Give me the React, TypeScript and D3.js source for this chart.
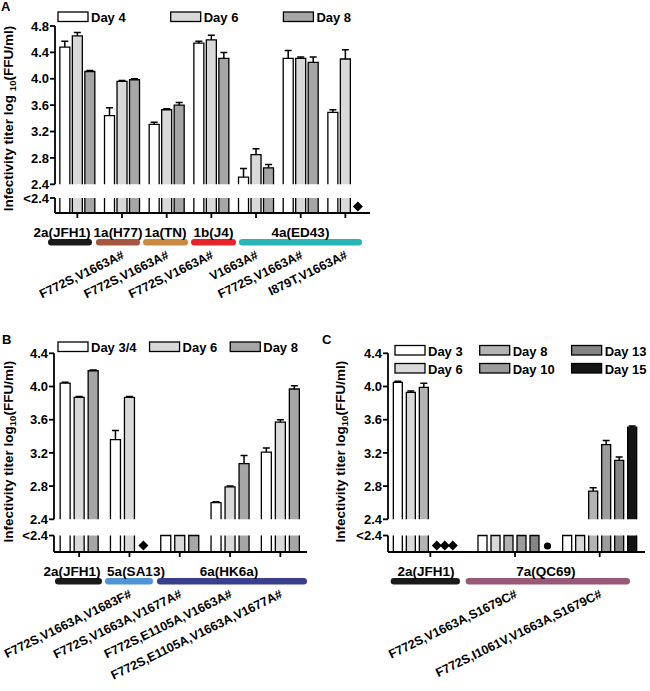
import React, { useEffect, useRef } from 'react';
import * as d3 from 'd3';

type Cell = number | 'lod' | 'nd' | 'dot';

// ---- Panel A ----
const groupsA = ['JFH1', 'H77', 'TN', 'J4', 'ED43-a', 'ED43-b', 'ED43-c'];
const mutationsA = ['', 'F772S,V1663A#', 'F772S,V1663A#', 'F772S,V1663A#', 'V1663A#', 'F772S,V1663A#', 'I879T,V1663A#'];
const daysA = ['Day 4', 'Day 6', 'Day 8'];
const day4A: Cell[] = [4.48, 3.44, 3.31, 4.54, 2.51, 4.31, 3.49];
const day6A: Cell[] = [4.65, 3.96, 3.53, 4.59, 2.85, 4.31, 4.3];
const day8A: Cell[] = [4.11, 3.985, 3.6, 4.31, 2.65, 4.25, 'nd'];
const err4A = [0.09, 0.12, 0.03, 0.03, 0.13, 0.12, 0.04];
const err6A = [0.05, 0.015, 0.015, 0.07, 0.09, 0.02, 0.14];
const err8A = [0.015, 0.015, 0.04, 0.09, 0.05, 0.08, 0];
const cladesA = ['2a(JFH1)', '1a(H77)', '1a(TN)', '1b(J4)', '4a(ED43)'];
const cladeFirstA = [0, 1, 2, 3, 4];
const cladeLastA = [0, 1, 2, 3, 6];
const cladeColorsA = ['#1a1a1a', '#a6573f', '#c98b3f', '#e5232a', '#2ab4b6'];
const ticksA = [2.4, 2.8, 3.2, 3.6, 4.0, 4.4, 4.8];

// ---- Panel B ----
const groupsB = ['JFH1', 'SA13', 'HK6a-a', 'HK6a-b', 'HK6a-c'];
const mutationsB = ['', 'F772S,V1663A,V1683F#', 'F772S,V1663A,V1677A#', 'F772S,E1105A,V1663A#', 'F772S,E1105A,V1663A,V1677A#'];
const daysB = ['Day 3/4', 'Day 6', 'Day 8'];
const day34B: Cell[] = [4.04, 3.36, 'lod', 2.6, 3.21];
const day6B: Cell[] = [3.87, 3.87, 'lod', 2.79, 3.57];
const day8B: Cell[] = [4.19, 'nd', 'lod', 3.07, 3.97];
const err34B = [0.01, 0.11, 0, 0.01, 0.05];
const err6B = [0.01, 0.01, 0, 0.01, 0.03];
const err8B = [0.01, 0, 0, 0.1, 0.04];
const cladesB = ['2a(JFH1)', '5a(SA13)', '6a(HK6a)'];
const cladeFirstB = [0, 1, 2];
const cladeLastB = [0, 1, 4];
const cladeColorsB = ['#1a1a1a', '#4f93d8', '#3b3d8e'];
const ticksB = [2.4, 2.8, 3.2, 3.6, 4.0, 4.4];

// ---- Panel C ----
const groupsC = ['JFH1', 'QC69-a', 'QC69-b'];
const mutationsC = ['', 'F772S,V1663A,S1679C#', 'F772S,I1061V,V1663A,S1679C#'];
const daysC = ['Day 3', 'Day 6', 'Day 8', 'Day 10', 'Day 13', 'Day 15'];
const day3C: Cell[] = [4.05, 'lod', 'lod'];
const day6C: Cell[] = [3.93, 'lod', 'lod'];
const day8C: Cell[] = [3.99, 'lod', 2.74];
const day10C: Cell[] = ['nd', 'lod', 3.3];
const day13C: Cell[] = ['nd', 'lod', 3.11];
const day15C: Cell[] = ['nd', 'dot', 3.51];
const err3C = [0.012, 0, 0];
const err6C = [0.015, 0, 0];
const err8C = [0.05, 0, 0.04];
const err10C = [0, 0, 0.05];
const err13C = [0, 0, 0.04];
const err15C = [0, 0, 0.015];
const cladesC = ['2a(JFH1)', '7a(QC69)'];
const cladeFirstC = [0, 1];
const cladeLastC = [0, 2];
const cladeColorsC = ['#1a1a1a', '#9a5878'];
const ticksC = [2.4, 2.8, 3.2, 3.6, 4.0, 4.4];

const FONT = '"Liberation Sans", Arial, sans-serif';

interface PanelSpec {
  letter: string;
  letterPos: [number, number];
  groups: string[];
  mutations: string[];
  days: string[];
  values: Cell[][];
  errors: number[][];
  fills: string[];
  clades: string[];
  cladeFirst: number[];
  cladeLast: number[];
  cladeColors: string[];
  // layout tweaks for the clade bars (px relative to band edges) and their labels
  cladeBarAdj: [number, number][];
  cladeLabelAdj: number[];
  ticks: number[];
  axisX: number;
  axisEnd: number;
  bandRange: [number, number];
  yTop: number;
  y24: number;
  lowTop: number;
  base: number;
  step: number;
  barW: number;
  titleX: number;
  titleSpace: boolean;
  legendX: number;
  legendY: number;
  legendRows: number;
  legendGap: number;
}

function drawPanel(svg: d3.Selection<SVGSVGElement, unknown, null, undefined>, p: PanelSpec) {
  const g = svg.append('g').style('font-family', FONT).style('font-weight', 'bold');
  const x = d3.scaleBand().domain(p.groups).range(p.bandRange);
  const half = ((p.days.length - 1) / 2) * p.step;
  const inner = d3.scalePoint().domain(p.days).range([-half, half]);
  const yMax = p.ticks[p.ticks.length - 1];
  const y = d3.scaleLinear().domain([p.ticks[0], yMax]).range([p.y24, p.yTop]);
  const center = (gi: number) => (x(p.groups[gi]) as number) + x.bandwidth() / 2;
  const cx = (gi: number, di: number) => center(gi) + (inner(p.days[di]) as number);

  // Bars
  p.values.forEach((series, di) => {
    series.forEach((v, gi) => {
      const c = cx(gi, di);
      const x0 = c - p.barW / 2;
      const x1 = c + p.barW / 2;
      if (typeof v === 'number') {
        g.append('path')
          .attr('d', `M${x0},${p.y24}V${y(v)}H${x1}V${p.y24}`)
          .attr('fill', p.fills[di]).attr('stroke', '#000').attr('stroke-width', 1.3);
        g.append('path')
          .attr('d', `M${x0},${p.lowTop}V${p.base}H${x1}V${p.lowTop}`)
          .attr('fill', p.fills[di]).attr('stroke', '#000').attr('stroke-width', 1.3);
        const ye = y(v + p.errors[di][gi]);
        g.append('path')
          .attr('d', `M${c},${y(v)}V${ye}M${c - 3.5},${ye}H${c + 3.5}`)
          .attr('fill', 'none').attr('stroke', '#000').attr('stroke-width', 1.5);
      } else if (v === 'lod') {
        g.append('path')
          .attr('d', `M${x0},${p.base}V${p.lowTop}H${x1}V${p.base}`)
          .attr('fill', p.fills[di]).attr('stroke', '#000').attr('stroke-width', 1.3);
      } else if (v === 'nd') {
        // pack consecutive diamonds of a group closely together
        let first = di;
        while (first > 0 && p.values[first - 1][gi] === 'nd') first--;
        const px = cx(gi, first) + (di - first) * 8;
        g.append('path')
          .attr('d', d3.symbol(d3.symbolSquare, 50)())
          .attr('transform', `translate(${px},${p.base - 6.5}) rotate(45)`)
          .attr('fill', '#000');
      } else {
        g.append('circle').attr('cx', c).attr('cy', p.base - 6).attr('r', 3.6).attr('fill', '#000');
      }
    });
  });

  // Y axis (broken)
  const ax = g.append('g').attr('stroke', '#000').attr('stroke-width', 1.8).attr('fill', 'none');
  ax.append('line').attr('x1', p.axisX).attr('x2', p.axisX).attr('y1', y(yMax)).attr('y2', p.y24);
  ax.append('line').attr('x1', p.axisX).attr('x2', p.axisX).attr('y1', p.lowTop).attr('y2', p.base);
  p.ticks.forEach(t => {
    ax.append('line').attr('x1', p.axisX - 5).attr('x2', p.axisX).attr('y1', y(t)).attr('y2', y(t));
    g.append('text').attr('x', p.axisX - 6).attr('y', y(t)).attr('dy', '0.36em')
      .attr('text-anchor', 'end').style('font-size', '13px').text(d3.format('.1f')(t));
  });
  ax.append('line').attr('x1', p.axisX - 5).attr('x2', p.axisX).attr('y1', p.lowTop).attr('y2', p.lowTop);
  g.append('text').attr('x', p.axisX - 6).attr('y', p.lowTop).attr('dy', '0.36em')
    .attr('text-anchor', 'end').style('font-size', '13px').text('<2.4');

  // X axis
  ax.append('line').attr('x1', p.axisX).attr('x2', p.axisEnd).attr('y1', p.base).attr('y2', p.base);
  p.groups.forEach((_, gi) => {
    ax.append('line').attr('x1', center(gi)).attr('x2', center(gi)).attr('y1', p.base).attr('y2', p.base + 5);
  });

  // Clade labels and colored bars
  p.clades.forEach((name, i) => {
    const a = (x(p.groups[p.cladeFirst[i]]) as number) + p.cladeBarAdj[i][0];
    const b = (x(p.groups[p.cladeLast[i]]) as number) + x.bandwidth() + p.cladeBarAdj[i][1];
    g.append('rect').attr('x', a).attr('y', p.base + 26).attr('width', b - a).attr('height', 6.5)
      .attr('rx', 3.2).attr('fill', p.cladeColors[i]);
    g.append('text').attr('x', (a + b) / 2 + p.cladeLabelAdj[i]).attr('y', p.base + 24).attr('text-anchor', 'middle')
      .style('font-size', '13.5px').text(name);
  });

  // Mutation labels
  p.mutations.forEach((m, gi) => {
    if (!m) return;
    g.append('text')
      .attr('transform', `translate(${center(gi) + 3},${p.base + 45}) rotate(-26)`)
      .attr('text-anchor', 'end').style('font-size', '12.5px').text(m);
  });

  // Y title
  const title = g.append('text')
    .attr('transform', `translate(${p.titleX},${(p.yTop + p.base) / 2 - 1}) rotate(-90)`)
    .attr('text-anchor', 'middle').style('font-size', '13.5px');
  title.append('tspan').text(p.titleSpace ? 'Infectivity titer log ' : 'Infectivity titer log');
  title.append('tspan').attr('dy', 3).style('font-size', '9.5px').text('10');
  title.append('tspan').attr('dy', -3).text('(FFU/ml)');

  // Legend
  const leg = g.append('g');
  let colX = p.legendX;
  const cols = Math.ceil(p.days.length / p.legendRows);
  for (let c = 0; c < cols; c++) {
    let colW = 0;
    for (let r = 0; r < p.legendRows; r++) {
      const di = c * p.legendRows + r;
      if (di >= p.days.length) break;
      const yy = p.legendY + r * 18;
      leg.append('rect').attr('x', colX).attr('y', yy).attr('width', 30).attr('height', 9.5)
        .attr('fill', p.fills[di]).attr('stroke', '#000').attr('stroke-width', 1.3);
      const t = leg.append('text').attr('x', colX + 33).attr('y', yy + 10)
        .style('font-size', '13px').text(p.days[di]);
      const w = (t.node() as SVGTextElement).getComputedTextLength();
      colW = Math.max(colW, 33 + w);
    }
    colX += colW + p.legendGap;
  }

  // Panel letter
  g.append('text').attr('x', p.letterPos[0]).attr('y', p.letterPos[1]).style('font-size', '13px').text(p.letter);
}

const panels: PanelSpec[] = [
  {
    letter: 'A', letterPos: [1, 11],
    groups: groupsA, mutations: mutationsA, days: daysA,
    values: [day4A, day6A, day8A], errors: [err4A, err6A, err8A],
    fills: ['#ffffff', '#d9d9d9', '#a6a6a6'],
    clades: cladesA, cladeFirst: cladeFirstA, cladeLast: cladeLastA, cladeColors: cladeColorsA,
    cladeBarAdj: [[-7, -7.7], [-3.7, -4.3], [-1.3, -1], [2, 2.3], [5.3, -5.7]],
    cladeLabelAdj: [-8, 0, 0, 0, 0],
    ticks: ticksA, axisX: 55, axisEnd: 370, bandRange: [55, 367.7],
    yTop: 26, y24: 184.3, lowTop: 198, base: 213, step: 12.5, barW: 10,
    titleX: 13, titleSpace: true, legendX: 58, legendY: 12, legendRows: 1, legendGap: 45,
  },
  {
    letter: 'B', letterPos: [2, 344],
    groups: groupsB, mutations: mutationsB, days: daysB,
    values: [day34B, day6B, day8B], errors: [err34B, err6B, err8B],
    fills: ['#ffffff', '#d9d9d9', '#a6a6a6'],
    clades: cladesB, cladeFirst: cladeFirstB, cladeLast: cladeLastB, cladeColors: cladeColorsB,
    cladeBarAdj: [[1, -2.3], [0.7, -1.6], [2.4, 1.5]],
    cladeLabelAdj: [-6.5, 7, -3],
    ticks: ticksB, axisX: 54, axisEnd: 307, bandRange: [54, 305.5],
    yTop: 353.3, y24: 519.3, lowTop: 535.5, base: 552, step: 14, barW: 10,
    titleX: 13, titleSpace: false, legendX: 58, legendY: 342, legendRows: 1, legendGap: 13,
  },
  {
    letter: 'C', letterPos: [322, 344],
    groups: groupsC, mutations: mutationsC, days: daysC,
    values: [day3C, day6C, day8C, day10C, day13C, day15C],
    errors: [err3C, err6C, err8C, err10C, err13C, err15C],
    fills: ['#ffffff', '#d9d9d9', '#b3b3b3', '#9c9c9c', '#858585', '#141414'],
    clades: cladesC, cladeFirst: cladeFirstC, cladeLast: cladeLastC, cladeColors: cladeColorsC,
    cladeBarAdj: [[2.7, -12.7], [-7, -12]],
    cladeLabelAdj: [0.6, -2],
    ticks: ticksC, axisX: 388, axisEnd: 645, bandRange: [388, 642],
    yTop: 353.3, y24: 519.3, lowTop: 535.5, base: 552, step: 13, barW: 9,
    titleX: 345, titleSpace: false, legendX: 395, legendY: 345.5, legendRows: 2, legendGap: 17,
  },
];

export default function App() {
  const svgRef = useRef<SVGSVGElement>(null);

  useEffect(() => {
    const svg = d3.select(svgRef.current as SVGSVGElement);
    svg.selectAll('*').remove();
    panels.forEach(p => drawPanel(svg, p));
  }, []);

  return (
    <svg
      ref={svgRef}
      width={650}
      height={691}
      style={{ position: 'absolute', left: 0, top: 0, background: '#fff' }}
    />
  );
}
